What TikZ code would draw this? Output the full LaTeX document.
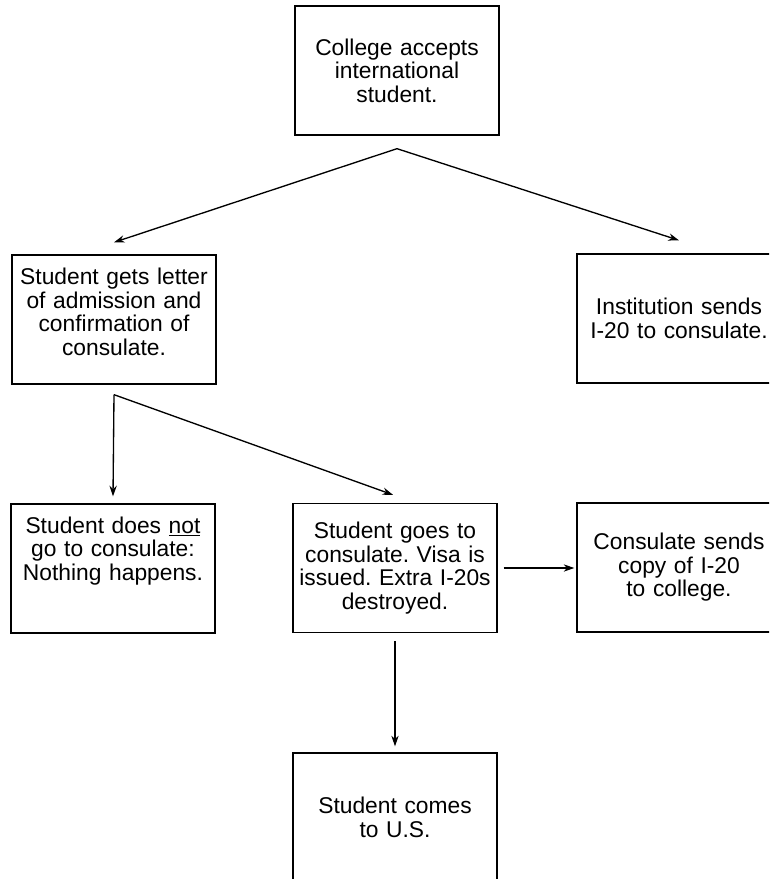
\documentclass[tikz,border=0pt]{standalone}
\usepackage{fontspec}
\setmainfont{Liberation Sans}
\usetikzlibrary{arrows.meta,calc}
\frenchspacing
\begin{document}
\frenchspacing
\begin{tikzpicture}[x=0.75pt,y=-0.75pt,
  txt/.style={inner sep=0pt,text width=150pt,align=center,font=\fontsize{17.1}{17.6}\selectfont},
  box/.style={txt,draw,line width=1pt,minimum width=153pt,minimum height=96.75pt},
  arr/.style={line width=1pt,-{Stealth[length=8pt,width=5.5pt]}}]
\useasboundingbox (0,0) rectangle (769,879);
\clip (0,0) rectangle (769,879);
\node[box] (top) at (397,70.5) {College accepts\\international\\student.};
\node[box] (b2) at (114,319.5) {};
\node[txt] (b2t) at (114,312) {Student gets letter\\of admission and\\confirmation of\\consulate.};
\node[box] (b3) at (679,318.5) {Institution sends\\I-20 to consulate.};
\node[box] (b4) at (113,568.5) {};
\node[txt] (b4t) at (113,551) {Student does \underline{not}\\go to consulate:\\Nothing happens.};
\node[box] (b5) at (395,568) {Student goes to\\consulate. Visa is\\issued. Extra I-20s\\destroyed.};
\node[box] (b6) at (679,567.5) {Consulate sends\\copy of I-20\\to college.};
\node[box] (b7) at (395,817.5) {Student comes\\to U.S.};
\coordinate (s1) at ([yshift=-9.75pt]top.south);
\coordinate (s2) at ([yshift=-7.5pt]b2.south);
\draw[arr] (s1) -- ([yshift=9pt]b2.north);
\draw[arr] (s1) -- ([yshift=9.75pt]b3.north);
\draw[arr] (s2) -- ([yshift=5.25pt]b4.north);
\draw[arr] (s2) -- ([xshift=-1.5pt,yshift=6pt]b5.north);
\draw[arr] ([xshift=4.5pt]b5.east) -- ([xshift=-1.5pt]b6.west |- b5.east);
\draw[arr] ([yshift=-6pt]b5.south) -- ([yshift=4.5pt]b7.north);
\end{tikzpicture}
\end{document}
